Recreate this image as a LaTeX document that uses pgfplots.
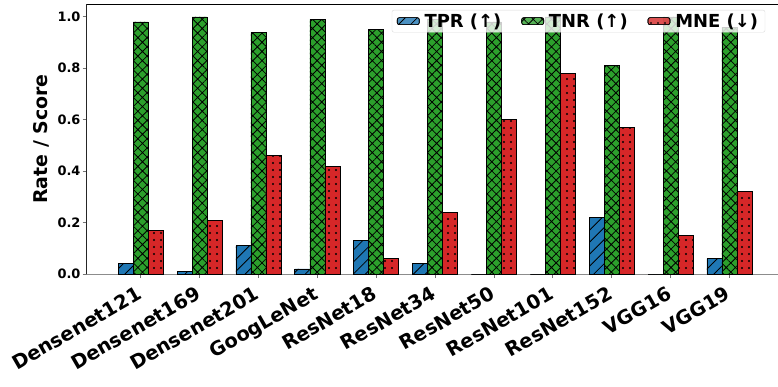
\documentclass[border=0pt]{standalone}
\usepackage{pgfplots}
\pgfplotsset{compat=1.18}
\usepackage{fontspec}
\setmainfont{DejaVu Sans}
\usetikzlibrary{patterns.meta}
\definecolor{tabblue}{HTML}{1F77B4}
\definecolor{tabgreen}{HTML}{2CA02C}
\definecolor{tabred}{HTML}{D62728}

\pgfplotstableread{
x  tpr   tnr   mne
0  0.04  0.98  0.17
1  0.01  1.00  0.21
2  0.11  0.94  0.46
3  0.02  0.99  0.42
4  0.13  0.95  0.06
5  0.04  0.99  0.24
6  0.00  0.98  0.60
7  0.00  1.00  0.78
8  0.22  0.81  0.57
9  0.00  1.00  0.15
10 0.06  0.96  0.32
}\datatable

\pgfplotsset{
  tprstyle/.style={fill=tabblue, draw=black, line width=0.6pt, postaction={pattern={Lines[angle=45,distance=8.5bp,line width=0.8pt]}, pattern color=black}},
  tnrstyle/.style={fill=tabgreen, draw=black, line width=0.6pt, postaction={pattern={Hatch[angle=45,distance=6.5bp,line width=0.8pt]}, pattern color=black}},
  mnestyle/.style={fill=tabred, draw=black, line width=0.6pt, postaction={pattern={Dots[distance=7bp,radius=1.1bp]}, pattern color=black}},
}

\begin{document}
\begin{tikzpicture}
\begin{axis}[
  scale only axis, width=691bp, height=270bp,
  xmin=-0.917, xmax=10.82, ymin=0, ymax=1.05,
  bar width=0.255,
  xtick={0,...,10},
  xticklabels={Densenet121,Densenet169,Densenet201,GoogLeNet,ResNet18,ResNet34,ResNet50,ResNet101,ResNet152,VGG16,VGG19},
  ytick={0,0.2,0.4,0.6,0.8,1.0},
  yticklabel style={/pgf/number format/.cd, fixed, fixed zerofill, precision=1, assume math mode=true, /tikz/.cd, font=\bfseries\fontsize{13}{15}\selectfont, inner sep=2bp},
  xticklabel style={rotate=30, anchor=north east, font=\bfseries\fontsize{19.5}{21}\selectfont, inner sep=1bp, xshift=-7bp, yshift=-3bp},
  ylabel={Rate / Score},
  ylabel style={at={(axis description cs:-0.065,0.5)}, anchor=center, font=\bfseries\fontsize{19}{21}\selectfont},
  axis x line*=bottom, axis y line*=left,
  x axis line style={-, draw=black!45, line width=0.8pt},
  y axis line style={-, draw=black!85, line width=0.8pt},
  xtick pos=bottom, ytick pos=left,
  tick align=outside, major tick length=4bp,
  major tick style={black!55, line width=0.8pt},
  after end axis/.code={\draw[black, line width=0.8pt] (rel axis cs:0,1) -- (rel axis cs:1,1);},
  legend image code/.code={\draw[#1] (0bp,-3.5bp) rectangle (22bp,3.5bp);},
  legend columns=3,
  legend style={at={(axis description cs:0.4415,0.978)}, anchor=north west, draw=black!15, fill=white, fill opacity=0.8, text opacity=1, draw opacity=1, rounded corners=2bp, font=\bfseries\fontsize{18}{20}\selectfont, inner xsep=5bp, inner ysep=1.5bp, /tikz/every odd column/.append style={column sep=3bp}, /tikz/every even column/.append style={column sep=18bp}},
]
\addplot[ybar, bar shift=-0.255, tprstyle, forget plot] table[x=x,y=tpr]{\datatable};
\addplot[ybar, bar shift=0, tnrstyle, forget plot] table[x=x,y=tnr]{\datatable};
\addplot[ybar, bar shift=0.255, mnestyle, forget plot] table[x=x,y=mne]{\datatable};
\addlegendimage{tprstyle}
\addlegendentry{TPR (↑)}
\addlegendimage{tnrstyle}
\addlegendentry{TNR (↑)}
\addlegendimage{mnestyle}
\addlegendentry{MNE (↓)}
\end{axis}
\pgfresetboundingbox
\path[use as bounding box] (current axis.south west) ++(-86.7bp,-113bp) rectangle ++(778bp,387bp);
\end{tikzpicture}
\end{document}
